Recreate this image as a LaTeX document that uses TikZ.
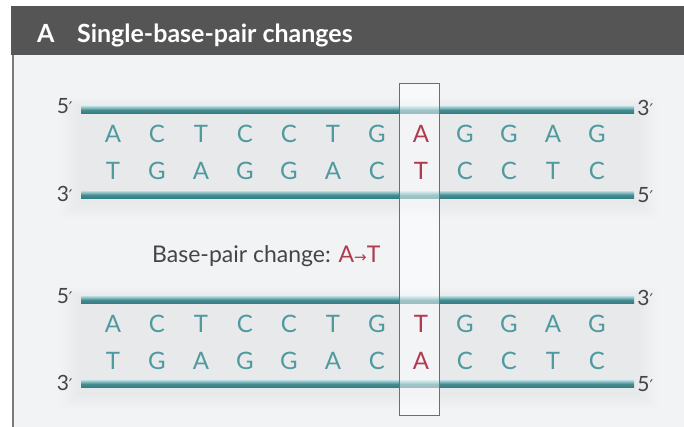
\documentclass[tikz,border=0pt]{standalone}
\usepackage{fontspec}
\setmainfont{Lato}
\newfontfamily\symfont{DejaVu Sans}
\definecolor{headbg}{HTML}{555555}
\definecolor{panelbg}{HTML}{F1F3F5}
\definecolor{bordergrey}{HTML}{7A7A7A}
\definecolor{basecol}{HTML}{4F9A9F}
\definecolor{redcol}{HTML}{B23A4E}
\definecolor{strandtop}{HTML}{A7D3D8}
\definecolor{strandbot}{HTML}{2F7D84}
\definecolor{boxgrey}{HTML}{6E6E6E}
\definecolor{labgrey}{HTML}{454545}
\newcommand{\prm}{{\symfont\fontsize{16}{16}\selectfont ′}}
\begin{document}
\begin{tikzpicture}[x=1pt,y=-1pt,
  strandbar/.style={minimum width=553pt, minimum height=7pt, inner sep=0pt, top color=strandtop, bottom color=strandbot, middle color=basecol!90!black},
  basel/.style={text=basecol, font=\fontsize{24}{24}\selectfont, inner sep=0pt, anchor=center, text height=17pt, text depth=0pt},
  redb/.style={basel, text=redcol},
  endlab/.style={text=labgrey, font=\fontsize{21}{21}\selectfont, inner sep=0pt},
  hlbox/.style={draw=boxgrey, line width=1pt, fill=white, fill opacity=0.5, minimum width=40pt, minimum height=331pt, inner sep=0pt}
]
\useasboundingbox (0,0) rectangle (684,427);
\fill[white] (0,0) rectangle (684,427);
\fill[panelbg] (12,55) rectangle (684,427);
\fill[headbg] (11,6) rectangle (684,55);
\draw[line width=2.5pt, bordergrey] (13.2,55) -- (13.2,427);
\node[anchor=base west, text=white, inner sep=0pt, font=\fontsize{25}{25}\selectfont\bfseries] (title) at (37,43) {A\hspace{0.9em}Single-base-pair changes};
% soft shading behind duplexes
\foreach \yy in {110,300}{
  \foreach \k in {0,...,9}{
    \fill[black!60!red, opacity=0.0045] (78-2*\k,\yy-4-\k) rectangle (640+2*\k,\yy+95+1.5*\k);
  }
}
% strands
\node[strandbar] (s1) at (357.5,110) {};
\node[strandbar] (s2) at (357.5,195) {};
\node[strandbar] (s3) at (357.5,300) {};
\node[strandbar] (s4) at (357.5,384) {};
% end labels
\node[endlab, anchor=east] (l1) at ([xshift=-8pt,yshift=4pt]s1.west) {5\prm};
\node[endlab, anchor=west] (r1) at ([xshift=3pt,yshift=2pt]s1.east) {3\prm};
\node[endlab, anchor=east] (l2) at ([xshift=-8pt,yshift=1pt]s2.west) {3\prm};
\node[endlab, anchor=west] (r2) at ([xshift=3pt,yshift=0pt]s2.east) {5\prm};
\node[endlab, anchor=east] (l3) at ([xshift=-8pt,yshift=4pt]s3.west) {5\prm};
\node[endlab, anchor=west] (r3) at ([xshift=3pt,yshift=2pt]s3.east) {3\prm};
\node[endlab, anchor=east] (l4) at ([xshift=-8pt,yshift=1pt]s4.west) {3\prm};
\node[endlab, anchor=west] (r4) at ([xshift=3pt,yshift=0pt]s4.east) {5\prm};
% highlight box
\node[hlbox] (hl) at (419,249.5) {};
% bases
\foreach \b [count=\i from 0] in {A,C,T,C,C,T,G,A,G,G,A,G}{
  \ifnum\i=7 \node[redb] (a\i) at (113+44*\i,134) {\b};
  \else \node[basel] (a\i) at (113+44*\i,134) {\b}; \fi
}
\foreach \b [count=\i from 0] in {T,G,A,G,G,A,C,T,C,C,T,C}{
  \ifnum\i=7 \node[redb] (b\i) at (113+44*\i,171) {\b};
  \else \node[basel] (b\i) at (113+44*\i,171) {\b}; \fi
}
\foreach \b [count=\i from 0] in {A,C,T,C,C,T,G,T,G,G,A,G}{
  \ifnum\i=7 \node[redb] (c\i) at (113+44*\i,324) {\b};
  \else \node[basel] (c\i) at (113+44*\i,324) {\b}; \fi
}
\foreach \b [count=\i from 0] in {T,G,A,G,G,A,C,A,C,C,T,C}{
  \ifnum\i=7 \node[redb] (d\i) at (113+44*\i,361) {\b};
  \else \node[basel] (d\i) at (113+44*\i,361) {\b}; \fi
}
% change label
\node[anchor=base west, inner sep=0pt, text=labgrey, font=\fontsize{23}{23}\selectfont] (chg) at (152,262) {Base-pair change: \textcolor{redcol}{A{\symfont\fontsize{15}{15}\selectfont →}T}};
\end{tikzpicture}
\end{document}
